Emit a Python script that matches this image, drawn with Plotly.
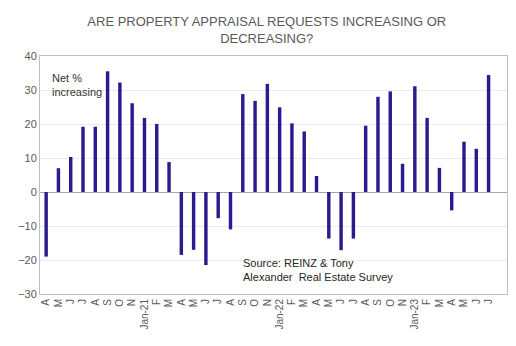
import plotly.graph_objects as go

labels = ["A", "M", "J", "J", "A", "S", "O", "N", "Jan-21", "F", "M", "A", "M", "J", "J", "A", "S", "O", "N",
          "Jan-22", "F", "M", "A", "M", "J", "J", "A", "S", "O", "N", "Jan-23", "F", "M", "A", "M", "J", "J"]
values = [-19, 7, 10.3, 19.2, 19.2, 35.5, 32.2, 26.1, 21.8, 20.0, 8.8, -18.5, -17, -21.5, -7.7, -11, 28.8, 26.8, 31.8,
          24.9, 20.2, 17.8, 4.7, -13.7, -17.1, -13.7, 19.5, 28.0, 29.6, 8.3, 31.1, 21.8, 7.1, -5.4, 14.8, 12.7, 34.4]
yticks = [-30, -20, -10, 0, 10, 20, 30, 40]

x = list(range(len(values)))

fig = go.Figure()
fig.add_trace(go.Bar(x=x, y=values, width=0.28, marker=dict(color="#2B1B8E", line=dict(width=0))))

fig.update_layout(
    width=516, height=346,
    margin=dict(l=40, r=9, t=56, b=52),
    paper_bgcolor="white", plot_bgcolor="white",
    font=dict(family="Liberation Sans, Arial, sans-serif", color="#595959"),
    showlegend=False,
    title=dict(text="ARE PROPERTY APPRAISAL REQUESTS INCREASING OR<br>DECREASING?",
               x=0.517, xanchor="center", y=0.925, yanchor="middle",
               font=dict(size=13, color="#595959")),
)
fig.update_xaxes(range=[-0.5, 37.5], tickvals=x, ticktext=labels, tickangle=-90,
                 tickfont=dict(size=10, color="#595959"), showgrid=False,
                 showline=True, linecolor="#BFBFBF", linewidth=1, mirror=True, ticks="")
fig.update_yaxes(range=[-30, 40], tickvals=yticks, tickfont=dict(size=11, color="#595959"),
                 showgrid=True, gridcolor="#EBEBEB", gridwidth=1,
                 zeroline=True, zerolinecolor="#A6A6A6", zerolinewidth=1,
                 showline=True, linecolor="#BFBFBF", linewidth=1, mirror=True, ticks="")

fig.add_annotation(xref="paper", yref="paper", x=0.022, y=0.94, xanchor="left", yanchor="top",
                   text="Net %<br>increasing", showarrow=False, align="left",
                   font=dict(size=11, color="#333333"))
fig.add_annotation(xref="paper", yref="paper", x=0.43, y=0.165, xanchor="left", yanchor="top",
                   text="Source: REINZ &amp; Tony<br>Alexander  Real Estate Survey", showarrow=False, align="left",
                   font=dict(size=11, color="#262626"))

fig.write_html("out.html")
